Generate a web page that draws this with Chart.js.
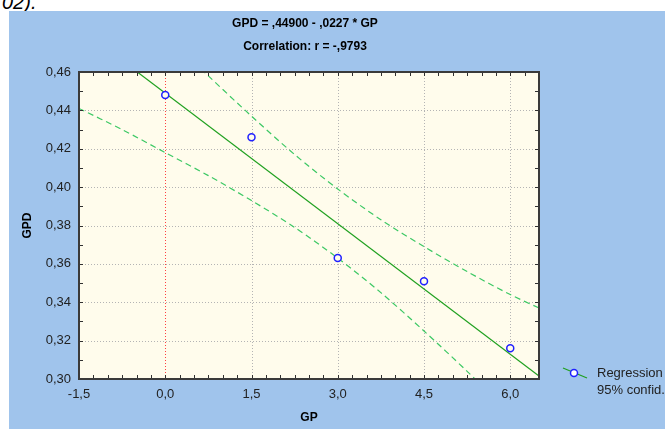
<!DOCTYPE html>
<html>
<head>
<meta charset="utf-8">
<script src="https://cdn.jsdelivr.net/npm/chart.js@4.4.1/dist/chart.umd.min.js"></script>
<style>
  html, body { margin: 0; padding: 0; background: #fff; overflow: hidden; }
  #page { position: relative; width: 665px; height: 429px; overflow: hidden; }
  #top { position: absolute; left: 2px; top: -9px; font: italic 20px "Liberation Sans", Arial, sans-serif; color: #000; }
  #blue { position: absolute; left: 9px; top: 11px; right: 0; bottom: 0; background: #a0c4ec; }
  #wrap { position: absolute; left: 0; top: 0; width: 665px; height: 429px; }
</style>
</head>
<body>
<div id="page">
  <div id="top">02).</div>
  <div id="blue"></div>
  <div id="wrap"><canvas id="myChart"></canvas></div>
</div>
<script>
// observed points
var gpValues = [0, 1.5, 3, 4.5, 6];
var gpdValues = [0.448, 0.426, 0.363, 0.351, 0.316];

// regression line ends
var regX = [-1.5, 6.5];
var regY = [0.483, 0.3015];

// 95% confidence band
var upperX = [0, 0.75, 1.5, 2.25, 3, 3.75, 4.5, 5.25, 6, 6.5];
var upperY = [0.480, 0.458, 0.437, 0.417, 0.399, 0.383, 0.369, 0.356, 0.344, 0.337];
var lowerX = [-1.5, -0.75, 0, 0.75, 1.5, 2.25, 3, 3.75, 4.5, 5.25, 6];
var lowerY = [0.441, 0.430, 0.418, 0.406, 0.393, 0.379, 0.363, 0.345, 0.325, 0.304, 0.282];

var xTickValues = [-1.5, 0, 1.5, 3, 4.5, 6];
var yTickValues = [0.30, 0.32, 0.34, 0.36, 0.38, 0.40, 0.42, 0.44, 0.46];

var titleLines = ['GPD = ,44900 - ,0227 * GP', 'Correlation: r = -,9793'];
var legendLabels = ['Regression', '95% confid.'];

function toPoints(xs, ys) {
    return xs.map(function (x, i) { return { x: x, y: ys[i] }; });
}

var frame = {
    id: 'frame',
    beforeDatasetsDraw: function (chart) {
        var a = chart.chartArea, ctx = chart.ctx;
        var xs = chart.scales.x, ys = chart.scales.y;
        ctx.save();
        ctx.fillStyle = '#fffcec';
        ctx.fillRect(a.left, a.top, a.right - a.left, a.bottom - a.top);
        ctx.lineWidth = 1;
        ctx.setLineDash([1, 2]);
        xTickValues.forEach(function (v) {
            var px = Math.round(xs.getPixelForValue(v)) + 0.5;
            if (px <= a.left + 1) return;
            ctx.strokeStyle = v === 0 ? '#ff4040' : '#b4b4b4';
            ctx.beginPath();
            ctx.moveTo(px, a.top);
            ctx.lineTo(px, a.bottom);
            ctx.stroke();
        });
        ctx.strokeStyle = '#b4b4b4';
        yTickValues.forEach(function (v) {
            var py = Math.round(ys.getPixelForValue(v)) + 0.5;
            if (py <= a.top + 1 || py >= a.bottom - 1) return;
            ctx.beginPath();
            ctx.moveTo(a.left, py);
            ctx.lineTo(a.right, py);
            ctx.stroke();
        });
        ctx.restore();
    },
    afterDraw: function (chart) {
        var a = chart.chartArea, ctx = chart.ctx;
        var xs = chart.scales.x, ys = chart.scales.y;
        ctx.save();
        ctx.strokeStyle = '#303030';
        ctx.lineWidth = 1;
        // little ticks inside the frame
        for (var v = -1.5; v <= 6.5; v += 0.25) {
            var px = Math.round(xs.getPixelForValue(v)) + 0.5;
            ctx.beginPath();
            ctx.moveTo(px, a.bottom); ctx.lineTo(px, a.bottom - 4);
            ctx.moveTo(px, a.top); ctx.lineTo(px, a.top + 4);
            ctx.stroke();
        }
        for (var w = 30; w <= 46; w++) {
            var py = Math.round(ys.getPixelForValue(w / 100)) + 0.5;
            ctx.beginPath();
            ctx.moveTo(a.left, py); ctx.lineTo(a.left + 4, py);
            ctx.moveTo(a.right, py); ctx.lineTo(a.right - 4, py);
            ctx.stroke();
        }
        ctx.strokeStyle = '#3a3a3a';
        ctx.lineWidth = 2;
        ctx.strokeRect(a.left, a.top, a.right - a.left, a.bottom - a.top);

        // title
        ctx.fillStyle = '#000';
        ctx.font = 'bold 12px "Liberation Sans Narrow", "Liberation Sans", Arial, sans-serif';
        ctx.textAlign = 'center';
        ctx.textBaseline = 'middle';
        ctx.fillText(titleLines[0], 305, 24);
        ctx.fillText(titleLines[1], 305, 47);

        // legend
        ctx.strokeStyle = '#1fa01f';
        ctx.lineWidth = 1.2;
        ctx.beginPath();
        ctx.moveTo(563, 368); ctx.lineTo(587, 378);
        ctx.stroke();
        ctx.fillStyle = '#ffffff';
        ctx.strokeStyle = '#2020ff';
        ctx.lineWidth = 1.5;
        ctx.beginPath();
        ctx.arc(574, 373, 3.5, 0, Math.PI * 2);
        ctx.fill();
        ctx.stroke();
        ctx.fillStyle = '#222';
        ctx.font = '13px "Liberation Sans", Arial, sans-serif';
        ctx.textAlign = 'left';
        ctx.fillText(legendLabels[0], 597, 373);
        ctx.fillText(legendLabels[1], 597, 390);
        ctx.restore();
    }
};

document.addEventListener('DOMContentLoaded', function () {
    var ctx = document.getElementById('myChart').getContext('2d');
    var tickFont = { family: '"Liberation Sans", Arial, sans-serif', size: 13 };
    var axisTitleFont = { family: '"Liberation Sans Narrow", "Liberation Sans", Arial, sans-serif', size: 12, weight: 'bold' };

    new Chart(ctx, {
        type: 'scatter',
        data: {
            datasets: [{
                label: 'Regression',
                data: toPoints(regX, regY),
                showLine: true,
                borderColor: '#1fa01f',
                borderWidth: 1.2,
                pointRadius: 0,
                clip: 0,
                order: 3
            }, {
                label: '95% confid.',
                data: toPoints(upperX, upperY),
                showLine: true,
                borderColor: '#3cc864',
                borderWidth: 1.2,
                borderDash: [6, 4],
                tension: 0.3,
                pointRadius: 0,
                clip: 0,
                order: 2
            }, {
                label: '95% confid. low',
                data: toPoints(lowerX, lowerY),
                showLine: true,
                borderColor: '#3cc864',
                borderWidth: 1.2,
                borderDash: [6, 4],
                tension: 0.3,
                pointRadius: 0,
                clip: 0,
                order: 2
            }, {
                label: 'GPD',
                data: toPoints(gpValues, gpdValues),
                showLine: false,
                pointRadius: 3.5,
                pointBorderWidth: 1.5,
                pointBorderColor: '#2020ff',
                pointBackgroundColor: '#fffcec',
                order: 1
            }]
        },
        options: {
            responsive: true,
            maintainAspectRatio: false,
            animation: false,
            layout: { padding: { top: 72, right: 126, left: 0, bottom: 0 } },
            plugins: {
                legend: { display: false },
                tooltip: { enabled: false }
            },
            scales: {
                x: {
                    type: 'linear',
                    min: -1.5,
                    max: 6.5,
                    grid: { display: false, drawTicks: false },
                    border: { display: false },
                    ticks: {
                        stepSize: 1.5,
                        includeBounds: false,
                        padding: 8,
                        color: '#222',
                        font: tickFont,
                        maxRotation: 0,
                        callback: function (v) { return v.toFixed(1).replace('.', ','); }
                    },
                    title: { display: true, text: 'GP', color: '#000', font: axisTitleFont, padding: { top: 0, bottom: 4 } },
                    afterFit: function (s) { s.height = 50; }
                },
                y: {
                    type: 'linear',
                    min: 0.30,
                    max: 0.46,
                    grid: { display: false, drawTicks: false },
                    border: { display: false },
                    ticks: {
                        stepSize: 0.02,
                        padding: 8,
                        color: '#222',
                        font: tickFont,
                        callback: function (v) { return v.toFixed(2).replace('.', ','); }
                    },
                    title: { display: true, text: 'GPD', color: '#000', font: axisTitleFont, padding: { top: 20, bottom: 0 } },
                    afterFit: function (s) { s.width = 79; }
                }
            }
        },
        plugins: [frame]
    });
});
</script>
</body>
</html>
